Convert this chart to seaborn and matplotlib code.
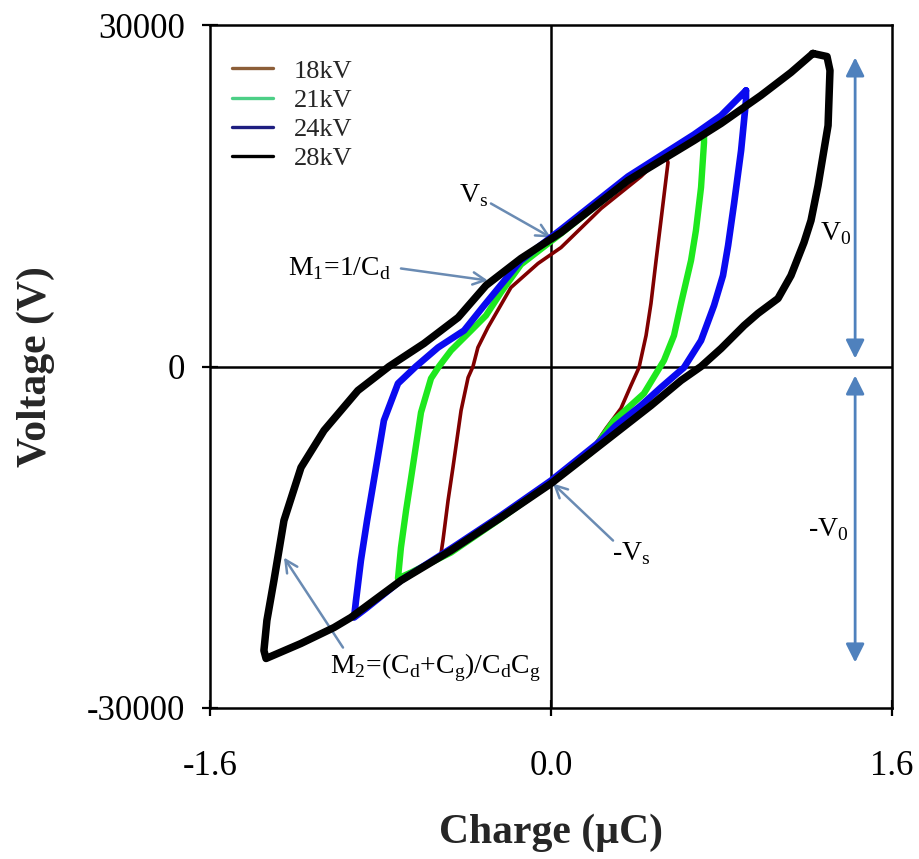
import matplotlib
matplotlib.use('Agg')
import matplotlib.pyplot as plt
import seaborn as sns
import pandas as pd
from matplotlib.lines import Line2D

labels = ['18kV', '21kV', '24kV', '28kV']

# Q-V loops: charge in uC, voltage in V
q_18 = [0.535, 0.549, 0.516, 0.493, 0.469, 0.446, 0.413, 0.375, 0.328, 0.258, 0.188, 0.000,
        -0.235, -0.422, -0.516, -0.507, -0.483, -0.460, -0.422, -0.389, -0.366, -0.343,
        -0.296, -0.188, -0.061, 0.047, 0.235, 0.422, 0.535]
v_18 = [18710, 17920, 12830, 9310, 5530, 2720, -90, -1670, -3690, -5450, -7380, -10100,
        -13180, -15460, -16430, -15290, -11770, -8870, -3870, -970, 0, 1670,
        3430, 6940, 9050, 10450, 13880, 16690, 18710]

q_21 = [0.718, 0.718, 0.704, 0.680, 0.657, 0.610, 0.577, 0.530, 0.436, 0.296, 0.188, 0.000,
        -0.235, -0.469, -0.657, -0.718, -0.704, -0.680, -0.657, -0.610, -0.563, -0.526,
        -0.469, -0.375, -0.305, -0.235, -0.141, 0.047, 0.361, 0.610, 0.718]
v_21 = [20730, 19680, 15730, 11950, 9310, 5530, 2720, 530, -2370, -4740, -7560, -10190,
        -13350, -16340, -18100, -18620, -15900, -12650, -9840, -4040, -1050, 0,
        1410, 3160, 4480, 6500, 8960, 11680, 16340, 19330, 20730]

q_24 = [0.915, 0.915, 0.892, 0.859, 0.831, 0.807, 0.765, 0.704, 0.624, 0.516, 0.422, 0.305,
        0.235, 0.000, -0.235, -0.469, -0.704, -0.868, -0.924, -0.915, -0.892, -0.863,
        -0.821, -0.784, -0.718, -0.634, -0.530, -0.408, -0.314, -0.141, 0.047, 0.361,
        0.671, 0.798, 0.915]
v_24 = [24250, 23370, 18980, 14320, 10630, 7990, 5360, 2280, -90, -1840, -3430, -5180,
        -6500, -10020, -13090, -15990, -18800, -21260, -22050, -20560, -17040, -13530,
        -8870, -4740, -1490, 0, 1670, 3160, 5360, 9310, 12040, 16690,
        20380, 22050, 24250]

q_28 = [1.229, 1.295, 1.309, 1.300, 1.253, 1.220, 1.187, 1.126, 1.065, 0.971, 0.906, 0.798,
        0.704, 0.610, 0.469, 0.235, 0.000, -0.235, -0.469, -0.704, -0.939, -1.018,
        -1.173, -1.337, -1.347, -1.333, -1.300, -1.253, -1.173, -1.065, -0.906, -0.760,
        -0.596, -0.436, -0.305, -0.141, 0.047, 0.361, 0.671, 0.798, 0.985, 1.126, 1.229]
v_28 = [27500, 27230, 26000, 21170, 15900, 12830, 10890, 7990, 5970, 4660, 3600, 1580,
        0, -1230, -3430, -6850, -10280, -13270, -16160, -18800, -22050, -22930,
        -24330, -25650, -24950, -22310, -18800, -13530, -8870, -5620, -2110, 0,
        2020, 4300, 7120, 9490, 11770, 16340, 19850, 21350, 23810, 25830, 27500]

line_colors = {'18kV': '#800000', '21kV': '#1ee81e', '24kV': '#0a0af0', '28kV': '#000000'}
legend_colors = ['#8c5e38', '#4ccf86', '#1e1e80', '#000000']
widths = {'18kV': 2.6, '21kV': 4.6, '24kV': 4.8, '28kV': 5.4}

frames = []
for lab, q, v in zip(labels, [q_18, q_21, q_24, q_28], [v_18, v_21, v_24, v_28]):
    frames.append(pd.DataFrame({'Q': q, 'V': v, 'series': lab}))
df = pd.concat(frames, ignore_index=True)

sns.set_style('white')
plt.rcParams['font.family'] = ['Liberation Serif', 'DejaVu Serif']
plt.rcParams['mathtext.fontset'] = 'custom'
plt.rcParams['mathtext.rm'] = 'Liberation Serif'

fig = plt.figure(figsize=(9.2, 8.59), dpi=100)
ax = fig.add_axes([210 / 920, 1 - 708 / 859, 682 / 920, 683 / 859])

ax.axhline(0, color='black', lw=1.8, zorder=1)
ax.axvline(0, color='black', lw=1.8, zorder=1)

for i, lab in enumerate(labels):
    sub = df[df.series == lab]
    sns.lineplot(data=sub, x='Q', y='V', sort=False, estimator=None, ax=ax,
                 color=line_colors[lab], lw=widths[lab], legend=False,
                 solid_joinstyle='round', zorder=2 + i)

ax.set_xlim(-1.6, 1.6)
ax.set_ylim(-30000, 30000)
ax.set_xticks([-1.6, 0, 1.6])
ax.set_xticklabels(['-1.6', '0.0', '1.6'])
ax.set_yticks([-30000, 0, 30000])
ax.set_yticklabels(['-30000', '0', '30000'])
ax.tick_params(axis='both', bottom=True, left=True, direction='inout', length=12, width=1.6,
               colors='black', labelsize=25)
ax.tick_params(axis='x', pad=24)
ax.tick_params(axis='y', pad=12)
for s in ax.spines.values():
    s.set_color('black')
    s.set_linewidth(1.8)

ax.set_xlabel('Charge (µC)', fontsize=30, fontweight='bold', va='center')
ax.set_ylabel('Voltage (V)', fontsize=30, fontweight='bold', va='center')
ax.xaxis.set_label_coords(0.5, -0.183)
ax.yaxis.set_label_coords(-0.255, 0.5)

handles = [Line2D([0], [0], color=c, lw=2.4) for c in legend_colors]
ax.legend(handles, labels, loc='upper left', bbox_to_anchor=(0.032, 0.95), frameon=False,
          fontsize=19, handlelength=1.55, handletextpad=0.8, labelspacing=0.22,
          borderpad=0, borderaxespad=0)

thin = dict(arrowstyle='->', color='#6a8bb3', lw=1.8, mutation_scale=22, shrinkA=0, shrinkB=0)
ax.annotate('', xy=(0.0, 11330), xytext=(-0.282, 14320), arrowprops=thin)
ax.annotate('', xy=(-0.296, 7555), xytext=(-0.704, 8610), arrowprops=thin)
ax.annotate('', xy=(0.009, -10280), xytext=(0.291, -15290), arrowprops=thin)
ax.annotate('', xy=(-1.253, -16780), xytext=(-0.976, -24690), arrowprops=thin)

both = dict(arrowstyle='<|-|>', color='#4f81bd', lw=2, mutation_scale=28, shrinkA=0, shrinkB=0)
ax.annotate('', xy=(1.427, 27150), xytext=(1.427, 700), arrowprops=both)
ax.annotate('', xy=(1.427, -790), xytext=(1.427, -26000), arrowprops=both)

tk = dict(fontsize=20, ha='center', va='center', color='black')
ax.text(-0.361, 15020, r'V$_\mathregular{s}$', **tk)
ax.text(-0.990, 8610, r'M$_\mathregular{1}$=1/C$_\mathregular{d}$', **tk)
ax.text(0.375, -16430, r'-V$_\mathregular{s}$', **tk)
ax.text(-0.540, -26440, r'M$_\mathregular{2}$=(C$_\mathregular{d}$+C$_\mathregular{g}$)/C$_\mathregular{d}$C$_\mathregular{g}$', **tk)
ax.text(1.337, 11680, r'V$_\mathregular{0}$', **tk)
ax.text(1.300, -14320, r'-V$_\mathregular{0}$', **tk)

fig.savefig('out.png', dpi=100, facecolor='white')
